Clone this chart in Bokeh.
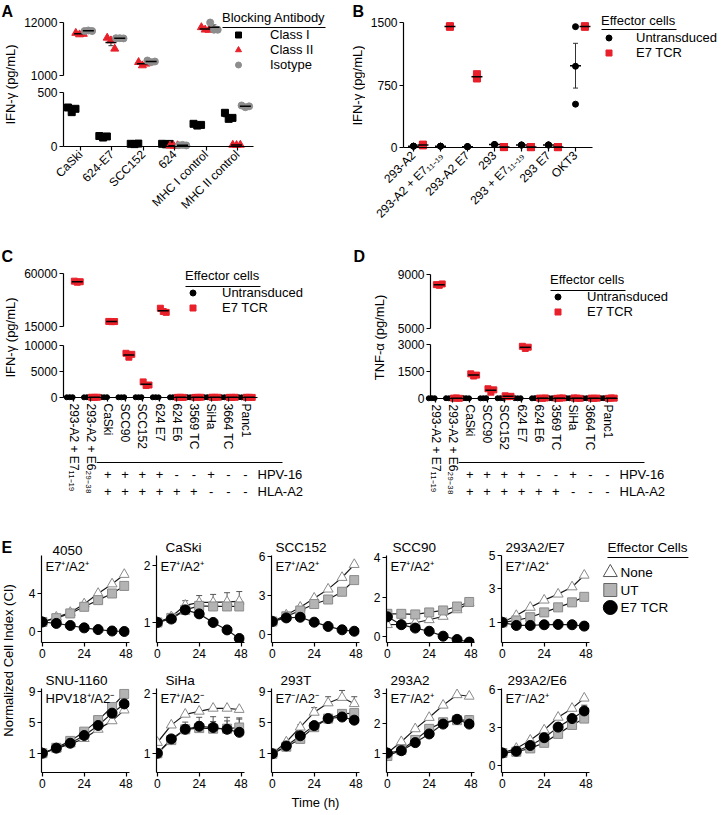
import math
import numpy as np
from bokeh.plotting import figure
from bokeh.layouts import row, column
from bokeh.models import (Range1d, FixedTicker, Legend, LegendItem, Label, LinearAxis,
                          Whisker, TeeHead, ColumnDataSource)
from bokeh.core.properties import value
from bokeh.embed import file_html
from bokeh.resources import INLINE

FONT = "Liberation Sans"
RED = "#e8202a"
ISO_GRAY = "#8d8d8d"

# ----------------------------- data -----------------------------
# Panel A: IFN-gamma (pg/mL), 3 replicates per group
a_cells = ["CaSki", "624-E7", "SCC152", "624", "MHC I control", "MHC II control"]
a_class_i = [[361, 318, 349], [97, 83, 93], [25, 22, 27], [25, 20, 24], [210, 194, 200], [312, 256, 265]]
a_class_ii = [[9820, 9510, 9610], [8820, 8260, 6540], [3760, 3080, 3430], [8, 5, 10], [11000, 10500, 10460], [15, 12, 15]]
a_isotype = [[10230, 10340, 10230], [8740, 8740, 8700], [4110, 3760, 3900], [12, 15, 10], [12000, 10500, 10500], [380, 364, 372]]

# Panel B: IFN-gamma (pg/mL)
b_cells = ["293-A2", "293-A2 + E7₁₁₋₁₉", "293-A2 E7", "293", "293 + E7₁₁₋₁₉", "293 E7", "OKT3"]
b_untransduced = [[16, 15, 17], [16, 15, 16], [10, 11, 10], [36, 34, 35], [30, 28, 31], [30, 32, 29], [1450, 975, 520]]
b_e7_tcr = [[30, 25, 35], [1452, 1450, 1454], [880, 828, 842], [5, 6, 5], [5, 4, 6], [5, 6, 4], [1452, 1450, 1454]]

# Panels C and D
cd_cells = ["293-A2 + E7₁₁₋₁₉", "293-A2 + E6₂₉₋₃₈", "CaSki", "SCC90", "SCC152", "624 E7",
            "624 E6", "3569 TC", "SiHa", "3664 TC", "Panc1"]
c_untransduced = [[40, 60, 50], [30, 50, 40], [60, 40, 50], [40, 30, 50], [50, 40, 60], [40, 50, 30],
                  [30, 40, 50], [50, 30, 40], [40, 60, 30], [30, 50, 40], [40, 30, 50]]
c_e7_tcr = [[53500, 52600, 53000], [40, 30, 50], [19300, 19100, 19200], [8500, 7750, 8300],
            [3000, 2300, 2400], [30500, 27700, 27000], [30, 40, 20], [20, 30, 40], [50, 30, 40],
            [30, 20, 40], [40, 30, 20]]
d_untransduced = [[10, 20, 15], [15, 10, 20], [20, 15, 10], [10, 15, 20], [15, 20, 10], [20, 10, 15],
                  [10, 20, 15], [15, 10, 20], [20, 15, 10], [10, 15, 20], [15, 20, 10]]
d_e7_tcr = [[8250, 8200, 8300], [20, 30, 10], [1370, 1250, 1300], [540, 350, 480], [150, 100, 120],
            [2900, 2780, 2850], [20, 10, 30], [10, 20, 30], [30, 20, 10], [20, 10, 20], [10, 30, 20]]
status_rows = ["HPV-16", "HLA-A2"]
hpv16_status = ["", "", "+", "+", "+", "+", "-", "-", "+", "-", "-"]
hla_a2_status = ["", "", "+", "+", "+", "+", "+", "+", "-", "-", "-"]

# Panel E: normalized cell index
e_hours = [0, 8, 16, 24, 32, 40, 47]
e_series = ["None", "UT", "E7 TCR"]
e_4050 = {"None": [1.0, 1.5, 2.0, 2.9, 4.0, 5.0, 6.0],
          "UT": [1.0, 1.4, 1.9, 2.6, 3.3, 4.0, 4.8],
          "E7 TCR": [1.0, 0.85, 0.63, 0.38, 0.2, 0.05, 0.0]}
e_caski = {"None": [1.0, 1.1, 1.3, 1.35, 1.35, 1.36, 1.37],
           "UT": [1.0, 1.08, 1.22, 1.29, 1.28, 1.28, 1.28],
           "E7 TCR": [1.0, 1.06, 1.22, 1.15, 1.0, 0.87, 0.72]}
e_caski_err = {"None": [0, 0.03, 0.08, 0.12, 0.14, 0.16, 0.17]}
e_scc152 = {"None": [1.0, 1.5, 2.1, 2.8, 3.5, 4.4, 5.4],
            "UT": [1.0, 1.4, 1.85, 2.35, 2.7, 3.3, 4.2],
            "E7 TCR": [1.0, 1.28, 1.33, 0.95, 0.62, 0.36, 0.25]}
e_scc90 = {"None": [0.6, 0.62, 0.7, 0.85, 1.02, 1.35, 1.7],
           "UT": [1.15, 1.15, 1.12, 1.22, 1.32, 1.52, 1.75],
           "E7 TCR": [1.0, 0.6, 0.43, 0.27, 0.02, -0.15, -0.28]}
e_293a2_e7 = {"None": [1.0, 1.41, 1.9, 2.33, 2.69, 3.12, 3.82],
              "UT": [1.0, 1.12, 1.31, 1.6, 1.9, 2.2, 2.53],
              "E7 TCR": [1.0, 0.82, 0.82, 0.86, 0.88, 0.86, 0.78]}
e_snu1160 = {"None": [1.0, 1.6, 2.2, 2.9, 4.1, 5.2, 6.6],
             "UT": [1.0, 1.7, 2.6, 3.8, 5.3, 7.0, 8.7],
             "E7 TCR": [1.0, 1.66, 2.3, 3.3, 4.6, 6.2, 7.4]}
e_siha = {"None": [1.18, 1.47, 1.65, 1.7, 1.75, 1.75, 1.73],
          "UT": [1.0, 1.22, 1.4, 1.42, 1.41, 1.41, 1.43],
          "E7 TCR": [1.0, 1.24, 1.4, 1.45, 1.43, 1.4, 1.35]}
e_siha_err = {"UT": [0, 0.04, 0.08, 0.1, 0.12, 0.13, 0.14],
              "E7 TCR": [0, 0.05, 0.12, 0.15, 0.18, 0.2, 0.24]}
e_293t = {"None": [1.0, 2.5, 4.4, 6.3, 7.5, 8.2, 7.4],
          "UT": [1.0, 1.9, 2.9, 4.4, 5.5, 6.1, 6.2],
          "E7 TCR": [1.0, 2.0, 3.3, 4.6, 5.5, 5.7, 5.3]}
e_293t_err = {"None": [0, 0.1, 0.3, 0.6, 0.8, 0.9, 0.9]}
e_293a2 = {"None": [1.0, 1.38, 1.81, 2.19, 2.6, 2.95, 2.9],
           "UT": [0.9, 1.1, 1.44, 1.81, 2.03, 2.1, 2.1],
           "E7 TCR": [1.0, 1.08, 1.35, 1.64, 1.97, 2.13, 1.97]}
e_293a2_err = {"UT": [0, 0, 0.03, 0.05, 0.08, 0.1, 0.15],
               "E7 TCR": [0, 0, 0.03, 0.05, 0.06, 0.08, 0.1]}
e_293a2_e6 = {"None": [1.0, 1.36, 2.0, 2.8, 3.8, 4.5, 5.3],
              "UT": [1.0, 1.1, 1.36, 1.8, 2.5, 3.2, 3.7],
              "E7 TCR": [1.0, 1.14, 1.59, 2.2, 3.03, 3.7, 4.3]}
e_293a2_e6_err = {"E7 TCR": [0, 0, 0.05, 0.1, 0.15, 0.2, 0.45]}


# ----------------------------- helpers -----------------------------
def span_range(lo_val, lo_px, hi_val, hi_px, bottom_px, top_px):
    """Range placing lo_val / hi_val at the given page rows (rows grow downward)."""
    upp = (hi_val - lo_val) / (lo_px - hi_px)
    return Range1d(lo_val - (bottom_px - lo_px) * upp, hi_val + (hi_px - top_px) * upp)


def row_value(rng, bottom_px, top_px, px):
    return rng.start + (bottom_px - px) * (rng.end - rng.start) / (bottom_px - top_px)


def col_value(rng, left_px, width, px):
    return rng.start + (px - left_px) * (rng.end - rng.start) / width


def cat_range(first_px, left_px, width, px_per_cat):
    start = -(first_px - left_px) / px_per_cat
    return Range1d(start, start + width / px_per_cat)


def style_axis(ax, fs="12px"):
    ax.axis_line_width = 1.2
    ax.axis_line_color = "black"
    ax.major_tick_line_width = 1.2
    ax.major_tick_line_color = "black"
    ax.major_tick_in = 0
    ax.major_tick_out = 4
    ax.minor_tick_line_color = None
    ax.major_label_text_font = FONT
    ax.major_label_text_font_size = fs
    ax.major_label_text_color = "black"
    ax.major_label_standoff = 2
    ax.axis_label_text_font = FONT
    ax.axis_label_text_font_size = "13px"
    ax.axis_label_text_font_style = "normal"
    ax.axis_label_text_color = "black"


def plain_fig(w, h, xr, yr):
    p = figure(width=w, height=h, x_range=xr, y_range=yr, toolbar_location=None,
               output_backend="svg", x_axis_location=None, y_axis_location=None, min_border=0)
    p.outline_line_color = None
    p.grid.visible = False
    return p


def add_y_axis(p, ticks, bounds, x_loc, range_name="default"):
    ax = LinearAxis(y_range_name=range_name, ticker=FixedTicker(ticks=ticks), bounds=bounds,
                    fixed_location=x_loc)
    style_axis(ax)
    p.add_layout(ax, "left")


def add_cat_axis(p, cells, orientation, bounds):
    ax = LinearAxis(ticker=FixedTicker(ticks=list(range(len(cells)))),
                    major_label_overrides={i: c for i, c in enumerate(cells)},
                    major_label_orientation=orientation, fixed_location=0, bounds=bounds)
    style_axis(ax)
    p.add_layout(ax, "below")


def note_fig(w, h, notes):
    p = plain_fig(w, h, Range1d(0, w), Range1d(0, h))
    for (x, y, text, angle, size, bold, align, baseline) in notes:
        p.add_layout(Label(x=x, y=y, text=text, angle=angle, text_font=FONT,
                           text_font_size=size, text_font_style="bold" if bold else "normal",
                           text_align=align, text_baseline=baseline, text_color="black"))
    return p


def draw_groups(p, vals, offset, jit, marker, color, size, split=None):
    """Replicates, mean dash and SEM whiskers; values >= split go on the 'up' range."""
    segs = [("default", lambda v: split is None or v < split)]
    if split is not None:
        segs.append(("up", lambda v: v >= split))
    best, best_n = None, -1
    for seg, keep in segs:
        xs, ys = [], []
        for i, reps in enumerate(vals):
            for j, v in enumerate(reps):
                if keep(v):
                    xs.append(i + offset + jit[j])
                    ys.append(v)
        r = p.scatter(x=xs, y=ys, marker=marker, size=size, fill_color=color, line_color=color,
                      y_range_name=seg)
        if len(xs) > best_n:
            best, best_n = r, len(xs)
        mx, my, ml, mu = [], [], [], []
        for i, reps in enumerate(vals):
            arr = np.array(reps, dtype=float)
            m = arr.mean()
            s = arr.std(ddof=1) / math.sqrt(len(arr))
            if keep(m):
                mx.append(i + offset)
                my.append(m)
                ml.append(m - s)
                mu.append(m + s)
        p.scatter(x=mx, y=my, marker="dash", size=11, line_color="black", line_width=1.5,
                  y_range_name=seg)
        src = ColumnDataSource(dict(x=mx, lower=ml, upper=mu))
        p.add_layout(Whisker(source=src, base="x", lower="lower", upper="upper", dimension="height",
                             y_range_name=seg, line_color="#333333", line_width=1,
                             upper_head=TeeHead(size=5, line_color="#333333", line_width=1),
                             lower_head=TeeHead(size=5, line_color="#333333", line_width=1)))
    return best


def add_legend(p, items, title, loc, gw, gh, standoff, fs="13px"):
    lg = Legend(items=items, title=title, location=loc, orientation="vertical",
                glyph_width=gw, glyph_height=gh, label_height=10, label_width=10,
                spacing=0, label_standoff=standoff, padding=0, margin=0,
                background_fill_alpha=0, border_line_color=None,
                label_text_font=FONT, label_text_font_size=fs, label_text_color="black",
                title_text_font=FONT, title_text_font_size=fs, title_text_font_style="normal",
                title_text_color="black", title_standoff=2)
    p.add_layout(lg)
    return lg


def underline(p, xr, left_px, width, yr, bottom_px, top_px, x0_px, x1_px, y_px):
    y = row_value(yr, bottom_px, top_px, y_px)
    p.segment(x0=[col_value(xr, left_px, width, x0_px)], y0=[y],
              x1=[col_value(xr, left_px, width, x1_px)], y1=[y], line_color="black", line_width=1)


# ----------------------------- panel A (page x 22..348, y 0..240) -----------------------------
A_PX = 31.4
a_xr = cat_range(80, 22, 326, A_PX)
a_low = span_range(0, 146, 500, 92, 240, 0)
a_up = span_range(1000, 75, 12000, 22, 240, 0)
pa = plain_fig(326, 240, a_xr, a_low)
pa.extra_y_ranges = {"up": a_up}
a_axis_x = (63 - 80) / A_PX
add_y_axis(pa, [0, 500], (0, 500), a_axis_x)
add_y_axis(pa, [1000, 12000], (1000, 12000), a_axis_x, "up")
add_cat_axis(pa, a_cells, math.pi / 4, (a_axis_x, (253 - 80) / A_PX))

a_specs = [("Class I", a_class_i, "square", "black", 7, -0.28),
           ("Class II", a_class_ii, "triangle", RED, 8, -0.03),
           ("Isotype", a_isotype, "circle", ISO_GRAY, 7, 0.25)]
a_jit = [-0.12, 0.0, 0.12]
a_items = []
for name, vals, marker, color, size, off in a_specs:
    r = draw_groups(pa, vals, off, a_jit, marker, color, size, split=700)
    a_items.append(LegendItem(label=name, renderers=[r]))
add_legend(pa, a_items, "Blocking Antibody", (200, 168), 32, 15, 16)
underline(pa, a_xr, 22, 326, a_low, 240, 0, 222, 325, 27)

a_note = note_fig(22, 240, [(1, 238, "A", 0, "16px", True, "left", "top"),
                            (10, 156, "IFN-γ (pg/mL)", math.pi / 2, "13px", False, "center", "middle")])

# ----------------------------- panel B (page x 365..725) -----------------------------
B_PX = 27.0
b_xr = cat_range(413, 365, 360, B_PX)
b_yr = span_range(0, 147, 1500, 22, 240, 0)
pb = plain_fig(360, 240, b_xr, b_yr)
b_axis_x = (403 - 413) / B_PX
add_y_axis(pb, [0, 750, 1500], (0, 1500), b_axis_x)
add_cat_axis(pb, b_cells, math.pi / 4, (b_axis_x, (592 - 413) / B_PX))
rb1 = draw_groups(pb, b_untransduced, 0.0, [0, 0, 0], "circle", "black", 6)
rb2 = draw_groups(pb, b_e7_tcr, 0.35, [0, 0, 0], "square", RED, 7)
add_legend(pb, [LegendItem(label="Untransduced", renderers=[rb1]),
                LegendItem(label="E7 TCR", renderers=[rb2])],
           "Effector cells", (236, 180), 15, 15, 20)
underline(pb, b_xr, 365, 360, b_yr, 240, 0, 601, 676, 29)
b_note = note_fig(17, 240, [(4, 238, "B", 0, "16px", True, "left", "top"),
                            (9, 155, "IFN-γ (pg/mL)", math.pi / 2, "13px", False, "center", "middle")])


# ----------------------------- panels C / D (page y 240..507) -----------------------------
def cd_panel(untr, e7, left_px, w, first_px, axis_px, right_px, up_vals, up_rows, low_vals, low_rows,
             leg_loc, uline):
    px = 17.2
    xr = cat_range(first_px, left_px, w, px)
    low = span_range(0, low_rows[0], low_vals[-1], low_rows[1], 507, 240)
    up = span_range(up_vals[0], up_rows[0], up_vals[1], up_rows[1], 507, 240)
    p = plain_fig(w, 267, xr, low)
    p.extra_y_ranges = {"up": up}
    ax_x = (axis_px - first_px) / px
    add_y_axis(p, list(low_vals), (0, low_vals[-1]), ax_x)
    add_y_axis(p, list(up_vals), tuple(up_vals), ax_x, "up")
    add_cat_axis(p, cd_cells, "vertical", (ax_x, (right_px - first_px) / px))
    jit = [-0.17, 0.0, 0.17]
    split = (low_vals[-1] + up_vals[0]) / 2
    ru = draw_groups(p, untr, -0.22, jit, "circle", "black", 5, split)
    re = draw_groups(p, e7, 0.22, jit, "square", RED, 6, split)
    add_legend(p, [LegendItem(label="Untransduced", renderers=[ru]),
                   LegendItem(label="E7 TCR", renderers=[re])],
               "Effector cells", leg_loc, 15, 15, 22)
    underline(p, xr, left_px, w, low, 507, 240, *uline)
    # HPV-16 / HLA-A2 status rows beneath the category labels
    row_y = {"HPV-16": row_value(low, 507, 240, 474), "HLA-A2": row_value(low, 507, 240, 491)}
    xs, ys, ts = [], [], []
    for rname, statuses in zip(status_rows, [hpv16_status, hla_a2_status]):
        for i, s in enumerate(statuses):
            if s:
                xs.append(i)
                ys.append(row_y[rname])
                ts.append(s)
    p.text(x=xs, y=ys, text=ts, text_align="center", text_baseline="middle",
           text_font=value(FONT), text_font_size="13px", text_color="black")
    n = len(cd_cells)
    p.text(x=[n - 1 + 0.7] * 2, y=[row_y[r] for r in status_rows], text=status_rows,
           text_align="left", text_baseline="middle", text_font=value(FONT),
           text_font_size="13px", text_color="black")
    yl = row_value(low, 507, 240, 462)
    p.segment(x0=[1.35], y0=[yl], x1=[12.15], y1=[yl], line_color="black", line_width=1.2)
    return p


pc = cd_panel(c_untransduced, c_e7_tcr, 22, 326, 73, 63, 257, (15000, 60000), (326, 273),
              (0, 5000, 10000), (397, 345), (163, 192), (185, 260, 286))
pd = cd_panel(d_untransduced, d_e7_tcr, 388, 337, 435, 430, 617, (5000, 9000), (328, 274),
              (0, 1500, 3000), (398, 344), (162, 188), (550, 625, 290))
c_note = note_fig(22, 267, [(1, 251, "C", 0, "16px", True, "left", "middle"),
                            (10, 170, "IFN-γ (pg/mL)", math.pi / 2, "13px", False, "center", "middle")])
d_note = note_fig(40, 267, [(5, 251, "D", 0, "16px", True, "left", "middle"),
                            (31, 170, "TNF-α (pg/mL)", math.pi / 2, "13px", False, "center", "middle")])

# ----------------------------- panel E (page y 507..815) -----------------------------
e_style = {"None": ("triangle", "white", "#8a8a8a", 10),
           "UT": ("square", "#b3b3b3", "#8a8a8a", 9),
           "E7 TCR": ("circle", "black", "black", 10)}


def e_panel(title, title_off, subtitle, data, errs, yr, yticks, top, fh, bottom, xlabel=None):
    xr = Range1d(-0.5, 50)
    yrng = Range1d(*yr)
    p = figure(width=115, height=top + fh + bottom, x_range=xr, y_range=yrng, title=title,
               toolbar_location=None, output_backend="svg",
               min_border_left=19, min_border_right=8, min_border_top=top, min_border_bottom=bottom)
    p.outline_line_color = None
    p.grid.visible = False
    for ax in p.axis:
        style_axis(ax)
    p.title.align = "left"
    p.title.offset = title_off
    p.title.text_font = FONT
    p.title.text_font_size = "13.5px"
    p.title.text_font_style = "normal"
    p.title.text_color = "black"
    p.title.standoff = 1
    p.xaxis.ticker = FixedTicker(ticks=[0, 24, 48])
    p.yaxis.ticker = FixedTicker(ticks=yticks)
    if xlabel:
        p.xaxis.axis_label = xlabel
        p.xaxis.axis_label_standoff = 4
    for s in e_series:
        p.line(e_hours, data[s], line_color="#1a1a1a", line_width=1.2)
    for s, err in errs.items():
        src = ColumnDataSource(dict(x=e_hours, y=data[s], top=[v + e for v, e in zip(data[s], err)]))
        p.add_layout(Whisker(source=src, base="x", lower="y", upper="top", dimension="height",
                             line_color="#555555", line_width=1, lower_head=None,
                             upper_head=TeeHead(size=6, line_color="#555555", line_width=1)))
    for s in e_series:
        marker, fill, line, size = e_style[s]
        p.scatter(e_hours, data[s], marker=marker, size=size, fill_color=fill,
                  line_color=line, line_width=1)
    sx = xr.start + 4 * (xr.end - xr.start) / 88
    sy = yrng.start + (fh - 3) * (yrng.end - yrng.start) / fh
    p.add_layout(Label(x=sx, y=sy, text=subtitle, text_font=FONT,
                       text_font_size="13px", text_baseline="top", text_color="black"))
    return p


row1_specs = [("4050", 11, "E7⁺/A2⁺", e_4050, {}, (-1.16, 8.0), [0, 4]),
              ("CaSki", 9, "E7⁺/A2⁺", e_caski, e_caski_err, (0.65, 2.17), [1, 2]),
              ("SCC152", 4, "E7⁺/A2⁺", e_scc152, {}, (-0.62, 6.1), [0, 3, 6]),
              ("SCC90", 6, "E7⁺/A2⁺", e_scc90, {}, (-0.3, 4.1), [0, 2, 4]),
              ("293A2/E7", 4, "E7⁺/A2⁺", e_293a2_e7, {}, (-0.2, 5.0), [1, 3, 5])]
row2_specs = [("SNU-1160", 4, "HPV18⁺/A2⁻", e_snu1160, {}, (-1.5, 9.4), [1, 5, 9]),
              ("SiHa", 9, "E7⁺/A2⁻", e_siha, e_siha_err, (0.68, 2.08), [1, 2]),
              ("293T", 9, "E7⁻/A2⁻", e_293t, e_293t_err, (-1.4, 9.35), [1, 5, 9]),
              ("293A2", 4, "E7⁻/A2⁺", e_293a2, e_293a2_err, (0.35, 3.16), [1, 2, 3]),
              ("293A2/E6", 6, "E7⁻/A2⁺", e_293a2_e6, e_293a2_e6_err, (-0.53, 6.06), [0, 3, 6])]

row1 = [e_panel(t, o, st, d, er, yr, yt, 48, 87, 28) for (t, o, st, d, er, yr, yt) in row1_specs]
row2 = [e_panel(t, o, st, d, er, yr, yt, 15, 87, 43, xlabel="Time (h)" if k == 2 else None)
        for k, (t, o, st, d, er, yr, yt) in enumerate(row2_specs)]

# key for panel E: frame aligned with the row (page y 555..642); rows 17.5 px apart from y=607 up
KEY_PX = 17.5
key_yr = Range1d(-35 / KEY_PX, -35 / KEY_PX + 87 / KEY_PX)
key = figure(width=128, height=163, x_range=Range1d(0, 1), y_range=key_yr, title="Effector Cells",
             toolbar_location=None, output_backend="svg",
             x_axis_location=None, y_axis_location=None,
             min_border_left=0, min_border_right=0, min_border_top=48, min_border_bottom=28)
key.outline_line_color = None
key.grid.visible = False
key.title.text_font = FONT
key.title.text_font_size = "13.5px"
key.title.text_font_style = "normal"
key.title.text_color = "black"
key.title.align = "left"
key.title.offset = 10
key.title.standoff = 2
key_style = {"None": ("triangle", "white", "#555555", 14),
             "UT": ("square", "#b3b3b3", "#666666", 13),
             "E7 TCR": ("circle", "black", "black", 14)}
key_y = {s: len(e_series) - 1 - i for i, s in enumerate(e_series)}
for s in e_series:
    marker, fill, line, size = key_style[s]
    key.scatter(x=[0.1], y=[key_y[s]], marker=marker, size=size, fill_color=fill, line_color=line,
                line_width=1)
key.text(x=[0.18] * 3, y=[key_y[s] for s in e_series], text=e_series, text_align="left",
         text_baseline="middle", text_font=value(FONT), text_font_size="13.5px", text_color="black")
uy = key_yr.end - 2 / KEY_PX
key.segment(x0=[0.078], y0=[uy], x1=[0.71], y1=[uy], line_color="black", line_width=1)

e_note = note_fig(22, 308, [(1, 268, "E", 0, "16px", True, "left", "middle"),
                            (8, 155, "Normalized Cell Index (CI)", math.pi / 2, "13px", False, "center", "middle")])

# ----------------------------- layout -----------------------------
band1 = row(a_note, pa, b_note, pb)
band2 = row(c_note, pc, d_note, pd)
band3 = row(e_note, column(row(*row1, key), row(*row2)))
layout = column(band1, band2, band3)

open("out.html", "w").write(file_html(layout, INLINE))
